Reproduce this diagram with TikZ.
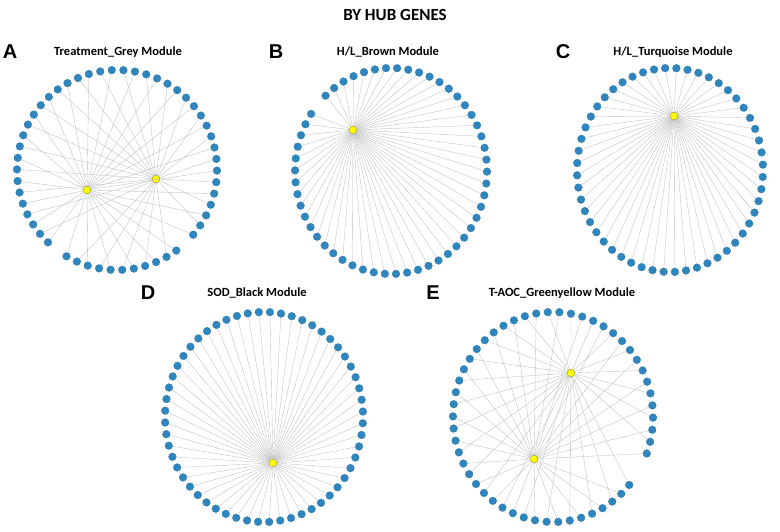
\documentclass[tikz,border=0pt]{standalone}
\usepackage{fontspec}
\setmainfont{Carlito}
\newfontfamily\letterfont{Liberation Sans}
\usepackage{tikz}
\usetikzlibrary{calc}

\definecolor{genecolor}{RGB}{47,134,190}
\definecolor{hubcolor}{RGB}{255,255,0}
\definecolor{edgecolor}{RGB}{190,190,190}

\begin{document}
\begin{tikzpicture}[x=1pt,y=-1pt]
                % Define styles
                \tikzstyle{gene} = [circle, fill=genecolor, draw=genecolor!85!black, line width=0.2pt, inner sep=0pt, minimum size=7.8pt]
                \tikzstyle{hub} = [circle, fill=hubcolor, draw=olive!80!black, line width=0.3pt, inner sep=0pt, minimum size=7.8pt]
                \tikzstyle{line} = [draw, edgecolor, line width=0.35pt]
                \tikzstyle{panel_letter} = [font=\letterfont\bfseries\fontsize{20}{20}\selectfont]
                \tikzstyle{panel_title} = [font=\bfseries\fontsize{12.5}{12.5}\selectfont]

                \useasboundingbox (0,0) rectangle (780,532);

                % Title
                \node [font=\bfseries\fontsize{17}{17}\selectfont] (main_title) at (395,15) {BY HUB GENES};

                % Panel letters and titles
                \node [panel_letter] (letter_a) at (10,52) {A};
                \node [panel_title] (title_grey) at (118,52) {Treatment\_Grey Module};
                \node [panel_letter] (letter_b) at (276,52) {B};
                \node [panel_title] (title_brown) at (388,52) {H/L\_Brown Module};
                \node [panel_letter] (letter_c) at (563,52) {C};
                \node [panel_title] (title_turquoise) at (673,52) {H/L\_Turquoise Module};
                \node [panel_letter] (letter_d) at (148,293) {D};
                \node [panel_title] (title_black) at (257,293) {SOD\_Black Module};
                \node [panel_letter] (letter_e) at (433,293) {E};
                \node [panel_title] (title_greenyellow) at (562,293) {T-AOC\_Greenyellow Module};

                % Centres of the rings
                \coordinate (ring_grey) at (117,170);
                \coordinate (ring_brown) at (391,171);
                \coordinate (ring_turquoise) at (670,170);
                \coordinate (ring_black) at (264,417);
                \coordinate (ring_greenyellow) at (553,417);

                % Hub genes
                \node [hub] (hub_grey_1) at (87,190) {};
                \node [hub] (hub_grey_2) at (156,179) {};
                \node [hub] (hub_brown) at (353,130) {};
                \node [hub] (hub_turquoise) at (674,116) {};
                \node [hub] (hub_black) at (273,463) {};
                \node [hub] (hub_greenyellow_1) at (571,373) {};
                \node [hub] (hub_greenyellow_2) at (534,459) {};

                % A: two hubs
                \foreach \k in {0,...,53} {
                    \ifnum\k=21 \else \ifnum\k=33 \else
                    \node [gene] (grey_\k) at ($(ring_grey)+({93-\k*(360/54)}:100pt and 100pt)$) {};
                    \pgfmathtruncatemacro{\side}{mod(\k*5,2)}
                    \ifnum\side=0
                        \path [line] (hub_grey_1) -- (grey_\k);
                    \else
                        \path [line] (hub_grey_2) -- (grey_\k);
                    \fi
                    \fi\fi
                }

                % B: one hub
                \foreach \k in {0,...,53} {
                    \ifnum\k=47 \else
                    \node [gene] (brown_\k) at ($(ring_brown)+({93-\k*(360/54)}:96pt and 103pt)$) {};
                    \path [line] (hub_brown) -- (brown_\k);
                    \fi
                }

                % C: one hub
                \foreach \k in {0,...,51} {
                    \node [gene] (turquoise_\k) at ($(ring_turquoise)+({93-\k*(360/52)}:93pt and 102pt)$) {};
                    \path [line] (hub_turquoise) -- (turquoise_\k);
                }

                % D: one hub
                \foreach \k in {0,...,55} {
                    \node [gene] (black_\k) at ($(ring_black)+({93-\k*(360/56)}:99pt and 105pt)$) {};
                    \path [line] (hub_black) -- (black_\k);
                }

                % E: two hubs
                \foreach \k in {0,...,53} {
                    \ifnum\k=18 \else \ifnum\k=19 \else
                    \node [gene] (greenyellow_\k) at ($(ring_greenyellow)+({93-\k*(360/54)}:100pt and 105pt)$) {};
                    \pgfmathtruncatemacro{\side}{mod(\k*3,4)}
                    \ifodd\side
                        \path [line] (hub_greenyellow_2) -- (greenyellow_\k);
                    \else
                        \path [line] (hub_greenyellow_1) -- (greenyellow_\k);
                    \fi
                    \fi\fi
                }
            \end{tikzpicture}
\end{document}
